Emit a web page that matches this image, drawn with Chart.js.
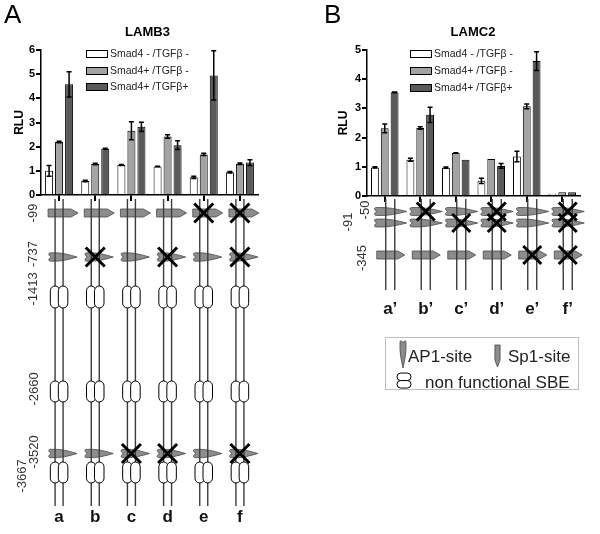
<!DOCTYPE html>
<html><head><meta charset="utf-8">
<script src="https://cdn.jsdelivr.net/npm/chart.js@4.4.1/dist/chart.umd.min.js"></script>
<style>
html,body{margin:0;padding:0;background:#fff;}
#wrap{position:relative;width:600px;height:534px;overflow:hidden;background:#fff;}
canvas{position:absolute;top:0;}
#cA{left:0;} #cB{left:300px;}
</style></head><body>
<div id="wrap"><canvas id="cA" width="300" height="534"></canvas><canvas id="cB" width="300" height="534"></canvas></div>
<script>
// ---------- DATA ----------
const seriesNames = ['Smad4 - /TGFβ -', 'Smad4+ /TGFβ -', 'Smad4+ /TGFβ+'];

const lamb3Categories = ['a', 'b', 'c', 'd', 'e', 'f'];
const lamb3White    = [1.00, 0.58, 1.24, 1.18, 0.73, 0.94];
const lamb3WhiteErr = [0.22, 0.03, 0.02, 0.01, 0.05, 0.03];
const lamb3Gray     = [2.19, 1.28, 2.66, 2.42, 1.68, 1.29];
const lamb3GrayErr  = [0.03, 0.03, 0.37, 0.07, 0.05, 0.03];
const lamb3Dark     = [4.58, 1.91, 2.82, 2.06, 4.95, 1.34];
const lamb3DarkErr  = [0.52, 0.02, 0.19, 0.18, 1.02, 0.12];
const lamb3Ticks    = [0, 1, 2, 3, 4, 5, 6];
const lamb3Mutated  = [[], ['-737'], ['-3520'], ['-737', '-3520'], ['-99'], ['-99', '-737', '-3520']];

const lamc2Categories = ['a’', 'b’', 'c’', 'd’', 'e’', 'f’'];
const lamc2White    = [0.98, 1.24, 0.97, 0.52, 1.35, 0.08];
const lamc2WhiteErr = [0.02, 0.05, 0.02, 0.09, 0.18, 0.00];
const lamc2Gray     = [2.32, 2.33, 1.47, 1.27, 3.07, 0.13];
const lamc2GrayErr  = [0.15, 0.04, 0.01, 0.00, 0.08, 0.00];
const lamc2Dark     = [3.55, 2.78, 1.24, 1.03, 4.62, 0.13];
const lamc2DarkErr  = [0.01, 0.26, 0.00, 0.08, 0.32, 0.00];
const lamc2Ticks    = [0, 1, 2, 3, 4, 5];
const lamc2Mutated  = [[], ['-50'], ['-91'], ['-50', '-91'], ['-345'], ['-50', '-91', '-345']];

// ---------- STYLE / LAYOUT ----------
const FONT = 'Arial, "Liberation Sans", Helvetica, sans-serif';
Chart.defaults.font.family = FONT;
Chart.defaults.color = '#000';
const barFills = ['#ffffff', '#a3a3a3', '#5a5a5a'];
const siteFill = '#8c8c8c', siteStroke = '#4a4a4a', lineCol = '#3c3c3c';

function sp1H(ctx, x0, x1, cy, h) {
  const xs = x1 - 7;
  ctx.beginPath();
  ctx.moveTo(x0, cy - h); ctx.lineTo(xs, cy - h); ctx.lineTo(x1, cy);
  ctx.lineTo(xs, cy + h); ctx.lineTo(x0, cy + h); ctx.closePath();
  ctx.fillStyle = siteFill; ctx.fill();
  ctx.strokeStyle = siteStroke; ctx.lineWidth = 0.8; ctx.stroke();
}
function ap1H(ctx, x0, x1, cy, h) {
  const L = x1 - x0;
  ctx.beginPath();
  ctx.moveTo(x0 + 3, cy);
  ctx.bezierCurveTo(x0 + 1, cy - 1, x0 - 1, cy - h, x0 + 3, cy - h);
  ctx.bezierCurveTo(x0 + L * 0.45, cy - h - 0.5, x0 + L * 0.7, cy - h * 0.6, x1, cy);
  ctx.bezierCurveTo(x0 + L * 0.7, cy + h * 0.6, x0 + L * 0.45, cy + h + 0.5, x0 + 3, cy + h);
  ctx.bezierCurveTo(x0 - 1, cy + h, x0 + 1, cy + 1, x0 + 3, cy);
  ctx.closePath();
  ctx.fillStyle = siteFill; ctx.fill();
  ctx.strokeStyle = siteStroke; ctx.lineWidth = 0.8; ctx.stroke();
}
function oval(ctx, cx, cy, w, h) {
  const r = Math.min(w, h) / 2;
  ctx.beginPath();
  ctx.roundRect(cx - w / 2, cy - h / 2, w, h, r);
  ctx.fillStyle = '#fff'; ctx.fill();
  ctx.strokeStyle = '#000'; ctx.lineWidth = 1; ctx.stroke();
}
function cross(ctx, cx, cy, s) {
  ctx.beginPath();
  ctx.moveTo(cx - s, cy - s); ctx.lineTo(cx + s, cy + s);
  ctx.moveTo(cx + s, cy - s); ctx.lineTo(cx - s, cy + s);
  ctx.strokeStyle = '#000'; ctx.lineWidth = 3; ctx.lineCap = 'butt'; ctx.stroke();
}
function vText(ctx, txt, x, y, size) {
  ctx.save();
  ctx.translate(x, y); ctx.rotate(-Math.PI / 2);
  ctx.font = size + 'px ' + FONT; ctx.fillStyle = '#333';
  ctx.textAlign = 'center'; ctx.textBaseline = 'middle';
  ctx.fillText(txt, 0, 0);
  ctx.restore();
}

function makeChart(id, cfg) {
  const errs = cfg.errs;
  const datasets = cfg.values.map((v, k) => ({
    label: seriesNames[k], data: v, backgroundColor: barFills[k],
    borderColor: '#000', borderWidth: 1, categoryPercentage: 0.83, barPercentage: 0.8
  }));
  const overlay = {
    id: 'overlay' + id,
    afterDatasetsDraw(chart) {
      const ctx = chart.ctx, ys = chart.scales.y;
      ctx.save();
      chart.data.datasets.forEach((ds, k) => {
        const meta = chart.getDatasetMeta(k);
        meta.data.forEach((bar, i) => {
          const e = errs[k][i];
          if (!e) return;
          const v = ds.data[i];
          const yt = ys.getPixelForValue(v + e), yb = ys.getPixelForValue(v - e);
          ctx.beginPath();
          ctx.moveTo(bar.x, yt); ctx.lineTo(bar.x, yb);
          ctx.moveTo(bar.x - 2.5, yt); ctx.lineTo(bar.x + 2.5, yt);
          ctx.moveTo(bar.x - 2.5, yb); ctx.lineTo(bar.x + 2.5, yb);
          ctx.strokeStyle = '#000'; ctx.lineWidth = 1.5; ctx.stroke();
        });
      });
      ctx.restore();
    },
    afterDraw(chart) {
      const ctx = chart.ctx, xs = chart.scales.x, ca = chart.chartArea;
      ctx.save();
      // panel letter & title
      ctx.fillStyle = '#000';
      ctx.font = '26px ' + FONT; ctx.textAlign = 'left'; ctx.textBaseline = 'alphabetic';
      ctx.fillText(cfg.letter, cfg.letterX, 23);
      ctx.font = 'bold 13px ' + FONT; ctx.textAlign = 'center';
      ctx.fillText(cfg.title, cfg.titleX, 36);
      // in-plot legend
      chart.data.datasets.forEach((ds, k) => {
        const y = ca.top + cfg.legendRows[k];
        ctx.fillStyle = ds.backgroundColor; ctx.fillRect(cfg.legendX, y - 3.5, 21, 7);
        ctx.strokeStyle = '#000'; ctx.lineWidth = 1; ctx.strokeRect(cfg.legendX + 0.5, y - 3.5, 21, 7);
        ctx.fillStyle = '#222'; ctx.font = '10.5px ' + FONT; ctx.textAlign = 'left'; ctx.textBaseline = 'middle';
        ctx.fillText(ds.label, cfg.legendX + 24, y + 0.5);
      });
      // promoter constructs
      const D = cfg.diagram;
      chart.data.labels.forEach((lab, i) => {
        const cx = xs.getPixelForValue(i) + D.dx;
        D.sites.forEach(s => {
          if (s.type === 'sp1') sp1H(ctx, cx + s.x0, cx + s.x1, s.y, s.h);
          else if (s.type === 'ap1') ap1H(ctx, cx + s.x0, cx + s.x1, s.y, s.h);
        });
        ctx.strokeStyle = lineCol; ctx.lineWidth = 1.4;
        [-D.half, D.half].forEach(o => {
          ctx.beginPath(); ctx.moveTo(cx + o, D.top); ctx.lineTo(cx + o, D.bottom); ctx.stroke();
        });
        D.sbe.forEach(s => {
          oval(ctx, cx - D.half, s.y, 9.5, s.h);
          oval(ctx, cx + D.half, s.y, 9.5, s.h);
        });
        cfg.mutated[i].forEach(m => {
          const s = D.sites.find(t => t.id === m);
          if (s) cross(ctx, cx, s.y, D.crossSize);
        });
        // construct name, placed under the category tick of the x scale
        ctx.fillStyle = '#111'; ctx.font = 'bold 17px ' + FONT;
        ctx.textAlign = 'center'; ctx.textBaseline = 'alphabetic';
        ctx.fillText(lab, cx + cfg.nameDx, cfg.nameY);
      });
      D.labels.forEach(l => vText(ctx, l.t, l.x, l.y, 13));
      // key box
      if (cfg.key) {
        const K = cfg.key;
        ctx.strokeStyle = '#bdbdbd'; ctx.lineWidth = 1;
        ctx.strokeRect(K.x + 0.5, K.y + 0.5, K.w, K.h);
        ctx.save(); ctx.translate(K.x + 18, K.y + 3); ctx.rotate(Math.PI / 2);
        ap1H(ctx, 0, 28, 0, 3); ctx.restore();
        ctx.save(); ctx.translate(K.x + 112.5, K.y + 8); ctx.rotate(Math.PI / 2);
        sp1H(ctx, 0, 22, 0, 2.6); ctx.restore();
        oval(ctx, K.x + 19, K.y + 39.8, 14, 7.5);
        oval(ctx, K.x + 19, K.y + 47.3, 14, 7.5);
        ctx.fillStyle = '#222'; ctx.font = '17px ' + FONT; ctx.textAlign = 'left'; ctx.textBaseline = 'alphabetic';
        ctx.fillText('AP1-site', K.x + 23, K.y + 25);
        ctx.fillText('Sp1-site', K.x + 123, K.y + 25);
        ctx.fillText('non functional SBE', K.x + 40, K.y + 51);
      }
      ctx.restore();
    }
  };
  return new Chart(document.getElementById(id), {
    type: 'bar',
    data: { labels: cfg.labels, datasets },
    options: {
      responsive: false, animation: false, devicePixelRatio: 1,
      layout: { padding: { left: 0, top: 50, right: cfg.padRight, bottom: 0 } },
      plugins: { legend: { display: false }, tooltip: { enabled: false }, title: { display: false } },
      scales: {
        x: {
          offset: true,
          grid: { display: true, drawOnChartArea: false, drawTicks: true, tickLength: 6, lineWidth: 2, color: '#000', offset: false },
          border: { display: true, color: '#000', width: 1.5 },
          ticks: { display: false, maxRotation: 0, autoSkip: false },
          afterFit: s => { s.height = 534 - cfg.axisBottom; }
        },
        y: {
          min: 0, max: cfg.ticks[cfg.ticks.length - 1],
          afterBuildTicks: s => { s.ticks = cfg.ticks.map(v => ({ value: v })); },
          grid: { drawOnChartArea: false, drawTicks: true, tickLength: 5, lineWidth: 2, color: '#000' },
          border: { display: true, color: '#000', width: 1.5 },
          ticks: { font: { size: 11, weight: 'bold' }, padding: 1, color: '#000' },
          title: { display: true, text: 'RLU', font: { size: 12, weight: 'bold' }, color: '#000', padding: { top: cfg.rluPad, bottom: 0 } },
          afterFit: s => { s.width = cfg.axisLeft; }
        }
      }
    },
    plugins: [overlay]
  });
}

makeChart('cA', {
  labels: lamb3Categories,
  values: [lamb3White, lamb3Gray, lamb3Dark],
  errs: [lamb3WhiteErr, lamb3GrayErr, lamb3DarkErr],
  ticks: lamb3Ticks, mutated: lamb3Mutated,
  letter: 'A', letterX: 4, title: 'LAMB3', titleX: 147.5,
  axisLeft: 41, padRight: 42, axisBottom: 195, rluPad: 12,
  nameY: 522, nameDx: 0,
  legendX: 86, legendRows: [4, 21, 37],
  diagram: {
    dx: 0, half: 4, top: 199, bottom: 506, crossSize: 9.5,
    sites: [
      { id: '-99', type: 'sp1', y: 213, x0: -11, x1: 19, h: 4 },
      { id: '-737', type: 'ap1', y: 257, x0: -11, x1: 18, h: 4.2 },
      { id: '-3520', type: 'ap1', y: 453.5, x0: -11, x1: 18, h: 4.2 }
    ],
    sbe: [{ y: 297, h: 22 }, { y: 391.5, h: 21 }, { y: 472.5, h: 21 }],
    labels: [
      { t: '-99', x: 33, y: 213 }, { t: '-737', x: 33, y: 254 }, { t: '-1413', x: 33, y: 289 },
      { t: '-2660', x: 34, y: 389 }, { t: '-3520', x: 34, y: 452 }, { t: '-3667', x: 22, y: 476 }
    ]
  }
});

makeChart('cB', {
  labels: lamc2Categories,
  values: [lamc2White, lamc2Gray, lamc2Dark],
  errs: [lamc2WhiteErr, lamc2GrayErr, lamc2DarkErr],
  ticks: lamc2Ticks, mutated: lamc2Mutated,
  letter: 'B', letterX: 24, title: 'LAMC2', titleX: 173,
  axisLeft: 67, padRight: 20, axisBottom: 196, rluPad: 36,
  nameY: 314, nameDx: 0,
  legendX: 110, legendRows: [4, 21, 38],
  diagram: {
    dx: 5.5, half: 4.5, top: 199, bottom: 290, crossSize: 9,
    sites: [
      { id: '-50', type: 'ap1', y: 211.5, x0: -16.5, x1: 16.5, h: 4 },
      { id: '-91', type: 'ap1', y: 223, x0: -16.5, x1: 16.5, h: 4 },
      { id: '-345', type: 'sp1', y: 255, x0: -13.5, x1: 14.5, h: 4 }
    ],
    sbe: [],
    labels: [
      { t: '-50', x: 65, y: 210 }, { t: '-91', x: 48, y: 222 }, { t: '-345', x: 62, y: 258 }
    ]
  },
  key: { x: 85, y: 337, w: 193, h: 52 }
});
</script>
</body></html>
